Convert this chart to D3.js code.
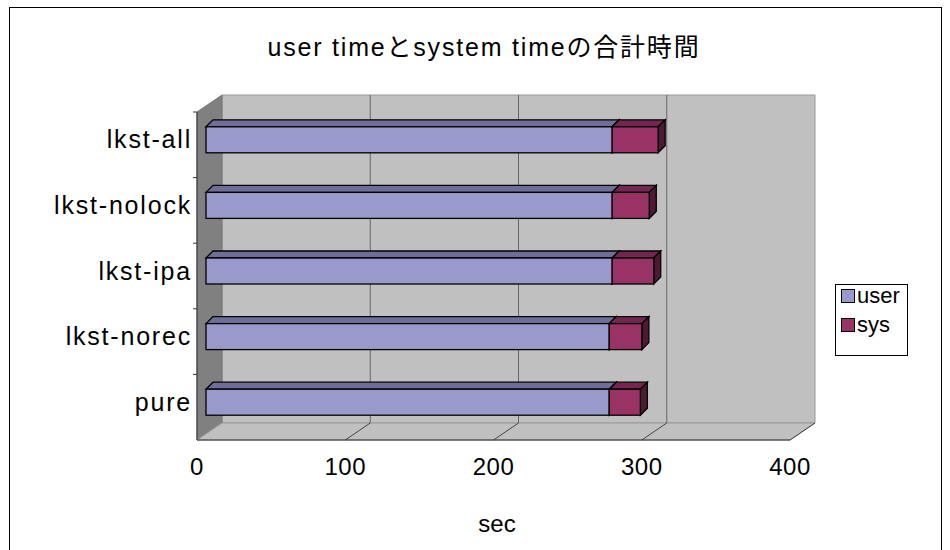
<!DOCTYPE html><html><head><meta charset="utf-8"><script src="https://cdn.jsdelivr.net/npm/d3@7"></script>
<style>body{margin:0;background:#fff}text{font-family:"Liberation Sans","Noto Sans CJK JP",sans-serif}</style></head><body>
<svg id="c" width="950" height="550"></svg>
<script>
const categories=["lkst-all","lkst-nolock","lkst-ipa","lkst-norec","pure"];
const userVals=[274,274,274,272,272];
const sysVals=[31,25,28,22,21];
const ticks=[0,100,200,300,400];
const svg=d3.select("#c");
svg.append("rect").attr("x",9.5).attr("y",7.5).attr("width",932).attr("height",560).attr("fill","#fff").attr("stroke","#000");
const dx=25,dy=-17,x0=197,y0=112,y1=440;
const x=d3.scaleLinear().domain([0,400]).range([x0,x0+593]);
const y=d3.scaleBand().domain(categories).range([y0,y1]);
const g=svg.append("g");
g.append("polygon").attr("points",`${x0+dx},${y0+dy} ${x(400)+dx},${y0+dy} ${x(400)+dx},${y1+dy} ${x0+dx},${y1+dy}`).attr("fill","#c0c0c0").attr("stroke","#999");
g.append("polygon").attr("points",`${x0},${y0} ${x0+dx},${y0+dy} ${x0+dx},${y1+dy} ${x0},${y1}`).attr("fill","#808080").attr("stroke","#777");
g.append("polygon").attr("points",`${x0},${y1} ${x0+dx},${y1+dy} ${x(400)+dx},${y1+dy} ${x(400)},${y1}`).attr("fill","#c0c0c0").attr("stroke","#999");
ticks.slice(1,4).forEach(t=>{g.append("line").attr("x1",x(t)+dx).attr("x2",x(t)+dx).attr("y1",y0+dy).attr("y2",y1+dy).attr("stroke","#666");
 g.append("line").attr("x1",x(t)).attr("y1",y1).attr("x2",x(t)+dx).attr("y2",y1+dy).attr("stroke","#444");});
g.append("line").attr("x1",x(400)).attr("y1",y1).attr("x2",x(400)+dx).attr("y2",y1+dy).attr("stroke","#444");
g.append("line").attr("x1",x0).attr("x2",x(400)).attr("y1",y1).attr("y2",y1).attr("stroke","#333");
g.append("line").attr("x1",x0).attr("x2",x0).attr("y1",y0).attr("y2",y1).attr("stroke","#333");
categories.forEach(c=>{const yy=y(c);g.append("line").attr("x1",x0-4).attr("x2",x0).attr("y1",yy).attr("y2",yy).attr("stroke","#333");});
ticks.forEach(t=>g.append("text").attr("x",x(t)).attr("y",475).attr("text-anchor","middle").attr("font-size",24).attr("letter-spacing","0.5").text(t));
categories.forEach(c=>g.append("text").attr("x",192).attr("y",y(c)+y.bandwidth()/2-3).attr("text-anchor","end").attr("dominant-baseline","middle").attr("font-size",25).attr("letter-spacing","1.8").text(c));
const bx=9,byo=-5,bh=26,ddx=7,ddy=-7;
function box(xa,xb,yc,front,top,side){const yt=yc-bh/2,yb=yc+bh/2;
 g.append("polygon").attr("points",`${xa},${yt} ${xa+ddx},${yt+ddy} ${xb+ddx},${yt+ddy} ${xb},${yt}`).attr("fill",top).attr("stroke","#000").attr("stroke-width",1.3);
 g.append("polygon").attr("points",`${xb},${yt} ${xb+ddx},${yt+ddy} ${xb+ddx},${yb+ddy} ${xb},${yb}`).attr("fill",side).attr("stroke","#000").attr("stroke-width",1.3);
 g.append("rect").attr("x",xa).attr("y",yt).attr("width",xb-xa).attr("height",bh).attr("fill",front).attr("stroke","#000").attr("stroke-width",1.3);}
categories.forEach((c,i)=>{const yc=y(c)+y.bandwidth()/2+byo;
 box(x(0)+bx,x(userVals[i])+bx,yc,"#9999cc","#6e6e99","#4d4d73");
 box(x(userVals[i])+bx,x(userVals[i]+sysVals[i])+bx,yc,"#993366","#732650","#4d1a33");});
svg.append("text").attr("x",484).attr("y",56).attr("text-anchor","middle").attr("font-size",25).attr("letter-spacing","1.8").text("user timeとsystem timeの合計時間");
svg.append("text").attr("x",497).attr("y",532).attr("text-anchor","middle").attr("font-size",24).text("sec");
const L=svg.append("g");
L.append("rect").attr("x",835.5).attr("y",284.5).attr("width",72).attr("height",71).attr("fill","#fff").attr("stroke","#000");
[["user","#9999cc"],["sys","#993366"]].forEach((d,i)=>{L.append("rect").attr("x",841.5).attr("y",289.5+i*29).attr("width",13).attr("height",13).attr("fill",d[1]).attr("stroke","#000");
 L.append("text").attr("x",857).attr("y",297+i*29).attr("dominant-baseline","middle").attr("font-size",22).text(d[0]);});
</script></body></html>
